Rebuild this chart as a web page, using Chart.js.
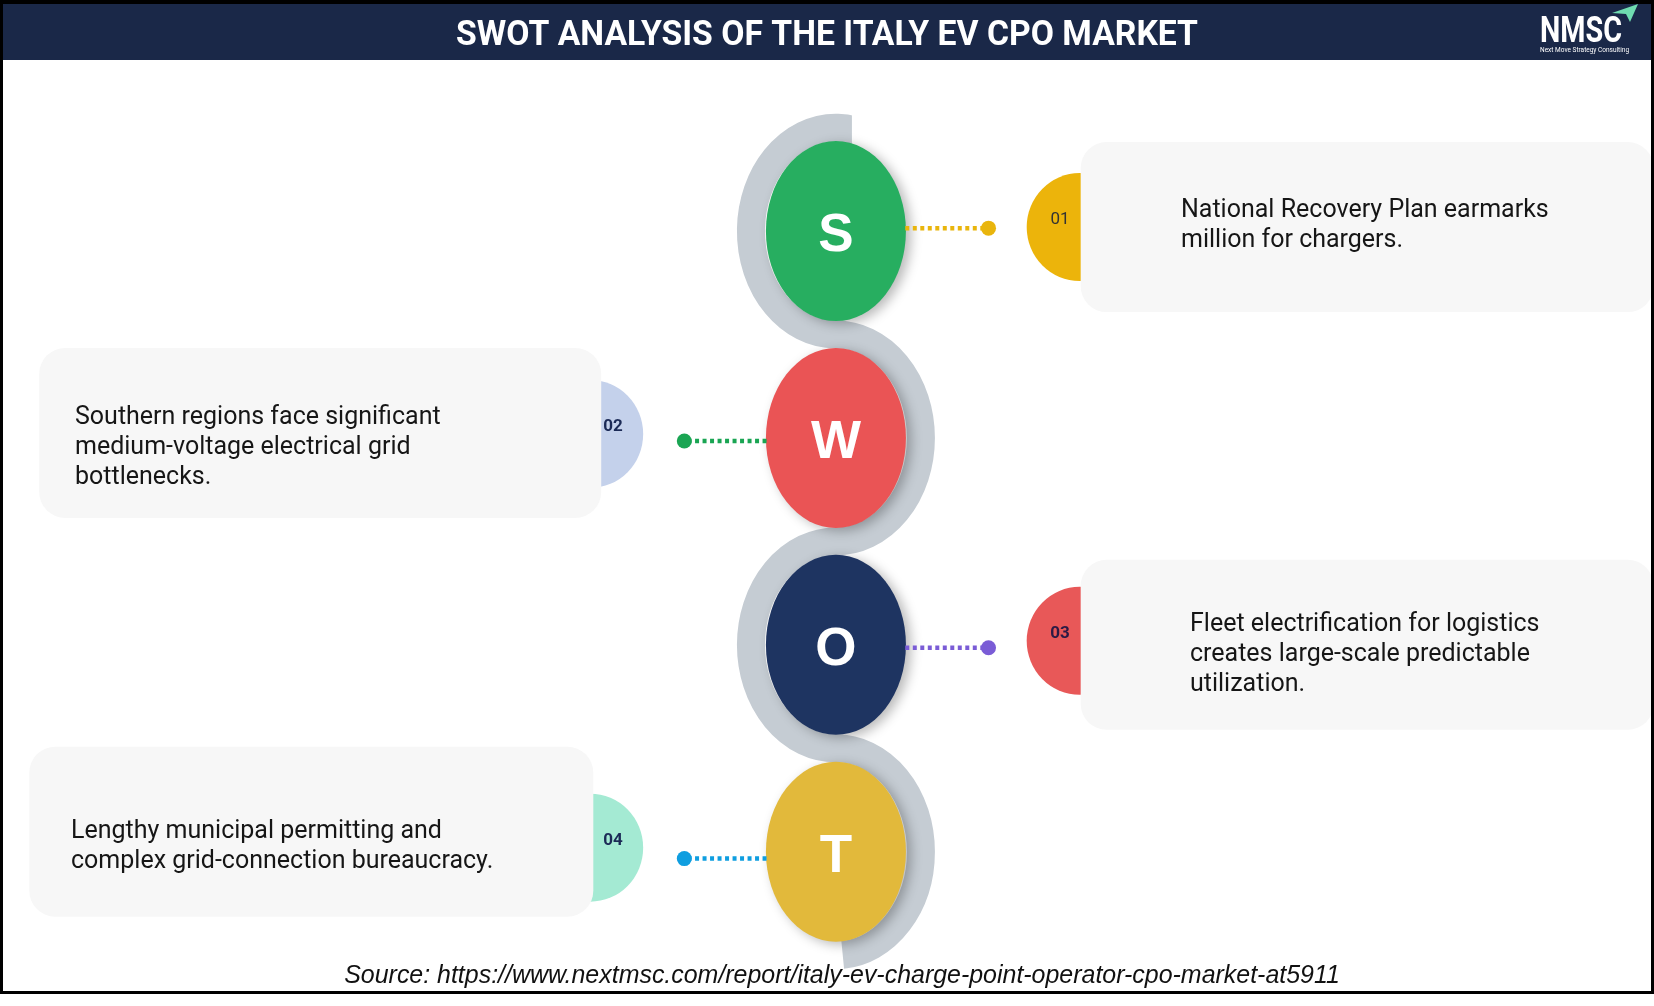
<!DOCTYPE html>
<html>
<head>
<meta charset="utf-8">
<script src="https://cdn.jsdelivr.net/npm/chart.js@4.4.0/dist/chart.umd.min.js"></script>
<style>
  html, body { margin: 0; padding: 0; background: #fff; }
  #wrap { width: 1654px; height: 1006px; position: relative; }
</style>
</head>
<body>
<div id="wrap"><canvas id="swot"></canvas></div>
<script>
// data
const title = 'SWOT ANALYSIS OF THE ITALY EV CPO MARKET';
const letters = ['S', 'W', 'O', 'T'];
const tabLabels = ['01', '02', '03', '04'];
const sides = ['right', 'left', 'right', 'left'];
const notes = [
  ['National Recovery Plan earmarks', 'million for chargers.'],
  ['Southern regions face significant', 'medium-voltage electrical grid', 'bottlenecks.'],
  ['Fleet electrification for logistics', 'creates large-scale predictable', 'utilization.'],
  ['Lengthy municipal permitting and', 'complex grid-connection bureaucracy.']
];
const source = 'Source: https://www.nextmsc.com/report/italy-ev-charge-point-operator-cpo-market-at5911';

// styles
const letterColors = ['#27ae60', '#ea5455', '#1e3461', '#e2b93b'];
const tabColors = ['#ecb40b', '#c4d1eb', '#e85858', '#a4ead3'];
const tabTextColors = ['#333333', '#1b2a56', '#2b1a45', '#1b2a56'];
const tabBold = [false, true, true, true];
const dotColors = ['#e9b50d', '#1aa553', '#7a5cd6', '#0f9ee0'];

// layout (pixels of the 1654x1006 page)
const W = 1654, H = 1006;
const ROW0 = 227, ROW_GAP = 210;
const CX = 836;          // centre of the letter ovals
const OVAL_RX = 70, OVAL_RY = 90;
const boxes = [
  { x0: 1083, x1: 1656, dy: -89, textX: 1181 },
  { x0: 32, x1: 594, dy: -90, textX: 75 },
  { x0: 1083, x1: 1656, dy: -85, textX: 1190 },
  { x0: 22, x1: 586, dy: -105, textX: 71 }
];
const BOX_H = 170;
const dotDy = [-3, 3, 3, 7];

function fitFont(ctx, text, style, family, target, base) {
  ctx.font = style + ' ' + base + 'px ' + family;
  return base * target / ctx.measureText(text).width;
}

const connectors = letters.map((l, i) => {
  const right = sides[i] === 'right';
  const yv = i + dotDy[i] / ROW_GAP;
  return {
    showLine: true,
    data: right
      ? [{ x: CX + OVAL_RX, y: yv }, { x: 990, y: yv }]
      : [{ x: CX - OVAL_RX, y: yv }, { x: 683, y: yv }],
    borderColor: dotColors[i],
    backgroundColor: dotColors[i],
    borderWidth: 4.5,
    borderDash: [4, 3.5],
    pointRadius: [0, 7.5],
    pointBorderWidth: 0,
    pointBackgroundColor: dotColors[i]
  };
});

const backdrop = {
  id: 'backdrop',
  beforeDraw(chart) {
    const ctx = chart.ctx;
    ctx.save();
    ctx.fillStyle = '#ffffff';
    ctx.fillRect(0, 0, W, H);
    ctx.restore();
  },
  beforeDatasetsDraw(chart) {
    const { ctx, scales: { x, y } } = chart;
    const cx = x.getPixelForValue(CX);
    const ry = (y.getPixelForValue(1) - y.getPixelForValue(0)) / 2;
    const top = y.getPixelForValue(0);

    // grey ribbon winding round the ovals, cut square at the top end
    ctx.save();
    ctx.beginPath();
    ctx.rect(0, 0, W, top - 60);
    ctx.rect(0, top - 60, W, H);
    ctx.clip();
    ctx.beginPath();
    ctx.rect(0, 0, cx + 16, top - 60);
    ctx.rect(0, top - 60, W, H);
    ctx.clip();
    ctx.beginPath();
    letters.forEach((l, i) => {
      const cy = y.getPixelForValue(i);
      const onLeft = sides[i] === 'right';
      let a0 = -Math.PI / 2, a1 = Math.PI / 2;
      if (i === 0) a0 += 0.4;
      if (i === letters.length - 1) a1 -= 0.08;
      ctx.ellipse(cx, cy, 85, ry, 0, a0, a1, onLeft);
    });
    ctx.lineWidth = 28;
    ctx.lineCap = 'butt';
    ctx.strokeStyle = '#c5ccd3';
    ctx.stroke();
    ctx.restore();

    // letter ovals
    letters.forEach((l, i) => {
      const cy = y.getPixelForValue(i);
      ctx.save();
      ctx.shadowColor = 'rgba(0,0,0,0.28)';
      ctx.shadowBlur = 12;
      ctx.shadowOffsetX = 5;
      ctx.shadowOffsetY = 3;
      ctx.beginPath();
      ctx.ellipse(cx, cy, OVAL_RX, OVAL_RY, 0, 0, Math.PI * 2);
      ctx.fillStyle = letterColors[i];
      ctx.fill();
      ctx.restore();
      ctx.save();
      ctx.fillStyle = '#ffffff';
      ctx.font = 'bold 53px "Liberation Sans", Arial, sans-serif';
      ctx.textAlign = 'center';
      ctx.textBaseline = 'alphabetic';
      ctx.fillText(l, cx, cy + 20);
      ctx.restore();
    });
  },
  afterDatasetsDraw(chart) {
    const { ctx, scales: { x, y } } = chart;
    letters.forEach((l, i) => {
      const cy = y.getPixelForValue(i);
      const right = sides[i] === 'right';
      const b = boxes[i];
      // number tab
      const tx = right ? 1082 : 588;
      ctx.save();
      ctx.beginPath();
      ctx.ellipse(x.getPixelForValue(tx), cy - 4, 53, 54, 0, 0, Math.PI * 2);
      ctx.fillStyle = tabColors[i];
      ctx.fill();
      // note box
      ctx.beginPath();
      ctx.roundRect(x.getPixelForValue(b.x0), cy + b.dy, b.x1 - b.x0, BOX_H, 26);
      ctx.fillStyle = '#f7f7f7';
      ctx.fill();
      // tab label
      ctx.fillStyle = tabTextColors[i];
      ctx.font = (tabBold[i] ? 'bold ' : '') + '17px Roboto, sans-serif';
      ctx.textAlign = 'center';
      ctx.textBaseline = 'middle';
      ctx.fillText(tabLabels[i], right ? 1060 : 613, cy - 11);
      // note text
      ctx.fillStyle = '#161616';
      ctx.font = '25px Roboto, sans-serif';
      ctx.textAlign = 'left';
      notes[i].forEach((line, k) => {
        ctx.fillText(line, b.textX, cy - 20 + k * 30);
      });
      ctx.restore();
    });
  },
  afterDraw(chart) {
    const ctx = chart.ctx;
    ctx.save();
    // header bar
    ctx.fillStyle = '#1a2848';
    ctx.fillRect(0, 0, W, 60);
    ctx.fillStyle = '#ffffff';
    ctx.font = 'bold 35px Roboto, sans-serif';
    const sx = 742 / ctx.measureText(title).width;
    ctx.save();
    ctx.translate(827, 45);
    ctx.scale(sx, 1);
    ctx.textAlign = 'center';
    ctx.textBaseline = 'alphabetic';
    ctx.fillText(title, 0, 0);
    ctx.restore();

    // logo
    ctx.save();
    ctx.font = 'bold 36px Roboto, sans-serif';
    const lx = 82 / ctx.measureText('NMSC').width;
    ctx.translate(1540, 42);
    ctx.scale(lx, 1);
    ctx.textAlign = 'left';
    ctx.textBaseline = 'alphabetic';
    ctx.fillText('NMSC', 0, 0);
    ctx.restore();
    ctx.font = '6.5px Roboto, sans-serif';
    ctx.textAlign = 'left';
    ctx.textBaseline = 'alphabetic';
    ctx.fillText('Next Move Strategy Consulting', 1540, 52);
    ctx.beginPath();
    ctx.moveTo(1612, 13);
    ctx.lineTo(1638, 4);
    ctx.lineTo(1630, 22);
    ctx.lineTo(1626, 14);
    ctx.closePath();
    ctx.fillStyle = '#6fdcb0';
    ctx.fill();

    // source line
    ctx.fillStyle = '#111111';
    const fs = fitFont(ctx, source, 'italic', '"Liberation Sans", Arial, sans-serif', 996, 24);
    ctx.font = 'italic ' + fs + 'px "Liberation Sans", Arial, sans-serif';
    ctx.textAlign = 'center';
    ctx.textBaseline = 'alphabetic';
    ctx.fillText(source, 842, 983);

    // frame
    ctx.fillStyle = '#000000';
    ctx.fillRect(0, 0, W, 4);
    ctx.fillRect(0, 0, 3, 994);
    ctx.fillRect(W - 3, 0, 3, 994);
    ctx.fillRect(0, 991, W, 3);
    ctx.restore();
  }
};

new Chart(document.getElementById('swot'), {
  type: 'scatter',
  data: { datasets: connectors },
  options: {
    responsive: true,
    maintainAspectRatio: false,
    animation: false,
    events: [],
    layout: { padding: 0 },
    scales: {
      x: { type: 'linear', display: false, min: 0, max: W },
      y: {
        type: 'linear', display: false, reverse: true,
        min: -ROW0 / ROW_GAP, max: (H - ROW0) / ROW_GAP
      }
    },
    plugins: { legend: { display: false }, tooltip: { enabled: false } }
  },
  plugins: [backdrop]
});
</script>
</body>
</html>
